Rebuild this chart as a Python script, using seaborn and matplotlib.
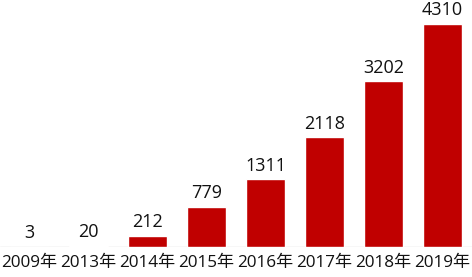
import matplotlib
matplotlib.use("Agg")
import matplotlib.pyplot as plt
import seaborn as sns
import pandas as pd

years = ["2009年", "2013年", "2014年", "2015年", "2016年", "2017年", "2018年", "2019年"]
counts = [3, 20, 212, 779, 1311, 2118, 3202, 4310]

sns.set_style("white")
plt.rcParams["font.family"] = ["Open Sans", "Noto Sans CJK SC", "DejaVu Sans"]

df = pd.DataFrame({"year": years, "count": counts})

fig = plt.figure(figsize=(4.72, 2.77), dpi=100)
ax = fig.add_axes([0.0, 30 / 277, 1.0, 247 / 277])
sns.barplot(data=df, x="year", y="count", color="#c00000", width=0.67,
            saturation=1, ax=ax)

# value labels above bars
for i, v in enumerate(counts):
    ax.text(i, v + 90, str(v), ha="center", va="bottom", fontsize=13, color="#111111")

ax.axhline(0, color="#d9d9d9", lw=1, zorder=0)
ax.set_xlim(-0.5, len(years) - 0.5)
ax.set_ylim(0, 4774)
ax.set_xlabel("")
ax.set_ylabel("")
ax.set_yticks([])
ax.tick_params(axis="x", length=0, labelsize=12.3, pad=6, colors="#111111")
for s in ax.spines.values():
    s.set_visible(False)

fig.savefig("out.png", dpi=100)
